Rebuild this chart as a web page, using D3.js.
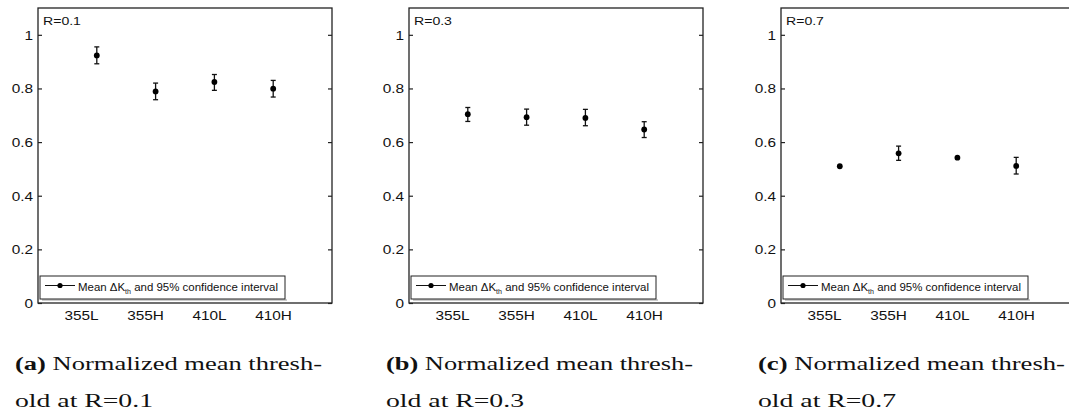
<!DOCTYPE html>
<html>
<head>
<meta charset="utf-8">
<script src="https://cdn.jsdelivr.net/npm/d3@7"></script>
<style>
  html, body { margin: 0; padding: 0; background: #fff; overflow: hidden; }
  .axis path { display: none; }
  .axis line { stroke: #222; stroke-width: 1.2px; }
</style>
</head>
<body>
<div id="chart"></div>
<script>
  // data
  var categories = ["355L", "355H", "410L", "410H"];
  var rLabels = ["R=0.1", "R=0.3", "R=0.7"];
  var captionTags = ["(a)", "(b)", "(c)"];
  var captionLine1 = " Normalized mean thresh-";
  var captionLine2 = ["old at R=0.1", "old at R=0.3", "old at R=0.7"];
  var yTicks = [0, 0.2, 0.4, 0.6, 0.8, 1];

  var mean01 = [0.923, 0.789, 0.824, 0.799];
  var low01  = [0.892, 0.758, 0.793, 0.768];
  var high01 = [0.955, 0.820, 0.852, 0.830];

  var mean03 = [0.704, 0.693, 0.690, 0.647];
  var low03  = [0.677, 0.663, 0.661, 0.617];
  var high03 = [0.729, 0.723, 0.722, 0.676];

  var mean07 = [0.510, 0.558, 0.542, 0.511];
  var low07  = [0.510, 0.532, 0.542, 0.481];
  var high07 = [0.510, 0.585, 0.542, 0.543];

  var series = [
    {mean: mean01, low: low01, high: high01},
    {mean: mean03, low: low03, high: high03},
    {mean: mean07, low: low07, high: high07}
  ];

  var outerWidth = 1069, outerHeight = 415;
  var panelLefts = [38, 409, 781],
      panelTop = 8,
      width = 294,
      height = 295,
      sx = 1.28;   // the source figure is stretched sideways

  var svg = d3.select("#chart").append("svg")
      .attr("width", outerWidth)
      .attr("height", outerHeight)
      .style("font-family", "'Liberation Sans', Arial, sans-serif");

  var x = d3.scaleLinear()
      .domain([0, categories.length + 1])
      .range([0, width]);

  var labelX = d3.scalePoint()
      .domain(categories)
      .range([43, 235]);

  var y = d3.scaleLinear()
      .domain([0, 1.1])
      .range([height, 0]);

  series.forEach(function(s, k) {
    var g = svg.append("g")
        .attr("transform", "translate(" + panelLefts[k] + "," + panelTop + ")");

    // left axis, ticks inward
    var left = g.append("g")
        .attr("class", "axis")
        .call(d3.axisLeft(y).tickValues(yTicks).tickSize(-4).tickPadding(5)
          .tickFormat(d3.format("")));
    left.selectAll("text")
        .attr("x", -5 / sx)
        .attr("dy", "0.36em")
        .attr("transform", "scale(" + sx + ",1)")
        .style("font-size", "12px")
        .attr("fill", "#111");

    // right axis, ticks inward, no labels
    g.append("g")
        .attr("class", "axis")
        .attr("transform", "translate(" + width + ",0)")
        .call(d3.axisRight(y).tickValues(yTicks).tickSize(-4).tickFormat(""));

    // category labels
    var bottom = g.append("g")
        .attr("class", "axis")
        .attr("transform", "translate(0," + height + ")")
        .call(d3.axisBottom(labelX).tickSize(0).tickPadding(8));
    bottom.selectAll("line").remove();
    bottom.selectAll("text")
        .attr("transform", "scale(" + sx + ",1)")
        .attr("x", 0)
        .style("font-size", "12px")
        .attr("fill", "#111");

    // frame
    g.append("rect")
        .attr("width", width)
        .attr("height", height)
        .attr("fill", "none")
        .attr("stroke", "#222")
        .attr("stroke-width", 1.3);

    g.append("text")
        .attr("transform", "translate(5,17) scale(" + sx + ",1)")
        .style("font-size", "11px")
        .attr("fill", "#111")
        .text(rLabels[k]);

    var pts = categories.map(function(c, i) {
      return {i: i + 1, mean: s.mean[i], low: s.low[i], high: s.high[i]};
    });

    var bars = g.selectAll(".err")
        .data(pts.filter(function(d) { return d.high > d.low; }))
      .enter().append("g")
        .attr("class", "err")
        .attr("stroke", "#111")
        .attr("stroke-width", 1.3);
    bars.append("line")
        .attr("x1", function(d) { return x(d.i); })
        .attr("x2", function(d) { return x(d.i); })
        .attr("y1", function(d) { return y(d.low); })
        .attr("y2", function(d) { return y(d.high); });
    bars.append("line")
        .attr("x1", function(d) { return x(d.i) - 2.5; })
        .attr("x2", function(d) { return x(d.i) + 2.5; })
        .attr("y1", function(d) { return y(d.low); })
        .attr("y2", function(d) { return y(d.low); });
    bars.append("line")
        .attr("x1", function(d) { return x(d.i) - 2.5; })
        .attr("x2", function(d) { return x(d.i) + 2.5; })
        .attr("y1", function(d) { return y(d.high); })
        .attr("y2", function(d) { return y(d.high); });

    g.selectAll(".dot")
        .data(pts)
      .enter().append("circle")
        .attr("class", "dot")
        .attr("cx", function(d) { return x(d.i); })
        .attr("cy", function(d) { return y(d.mean); })
        .attr("r", 2.9)
        .attr("fill", "#000");

    // legend
    var lg = g.append("g").attr("transform", "translate(2,268)");
    lg.append("line")
        .attr("x1", 2).attr("x2", 247)
        .attr("y1", 24).attr("y2", 24)
        .attr("stroke", "#bbb").attr("stroke-width", 1.5);
    lg.append("rect")
        .attr("width", 245)
        .attr("height", 23)
        .attr("fill", "#fff")
        .attr("stroke", "#222")
        .attr("stroke-width", 1);
    lg.append("line")
        .attr("x1", 5).attr("x2", 35)
        .attr("y1", 9.5).attr("y2", 9.5)
        .attr("stroke", "#111").attr("stroke-width", 1);
    lg.append("circle")
        .attr("cx", 20).attr("cy", 9.5).attr("r", 2.6).attr("fill", "#000");
    var lt = lg.append("text")
        .attr("x", 38)
        .attr("y", 14.5)
        .attr("textLength", 200)
        .attr("lengthAdjust", "spacingAndGlyphs")
        .style("font-size", "10.5px")
        .attr("fill", "#111");
    lt.append("tspan").text("Mean \u0394K");
    lt.append("tspan").attr("dy", 3).style("font-size", "6.5px").text("th");
    lt.append("tspan").attr("dy", -3).text(" and 95% confidence interval");

    // caption
    var cap = svg.append("g")
        .attr("transform", "translate(" + (panelLefts[k] - 23) + ",0)")
        .style("font-family", "'Liberation Serif', 'Times New Roman', serif")
        .style("font-size", "18.5px")
        .attr("fill", "#111");
    var c1 = cap.append("text")
        .attr("y", 370)
        .attr("textLength", 307)
        .attr("lengthAdjust", "spacingAndGlyphs");
    c1.append("tspan").style("font-weight", "bold").text(captionTags[k]);
    c1.append("tspan").text(captionLine1);
    cap.append("text")
        .attr("y", 407)
        .attr("textLength", 138)
        .attr("lengthAdjust", "spacingAndGlyphs")
        .text(captionLine2[k]);
  });
</script>
</body>
</html>
